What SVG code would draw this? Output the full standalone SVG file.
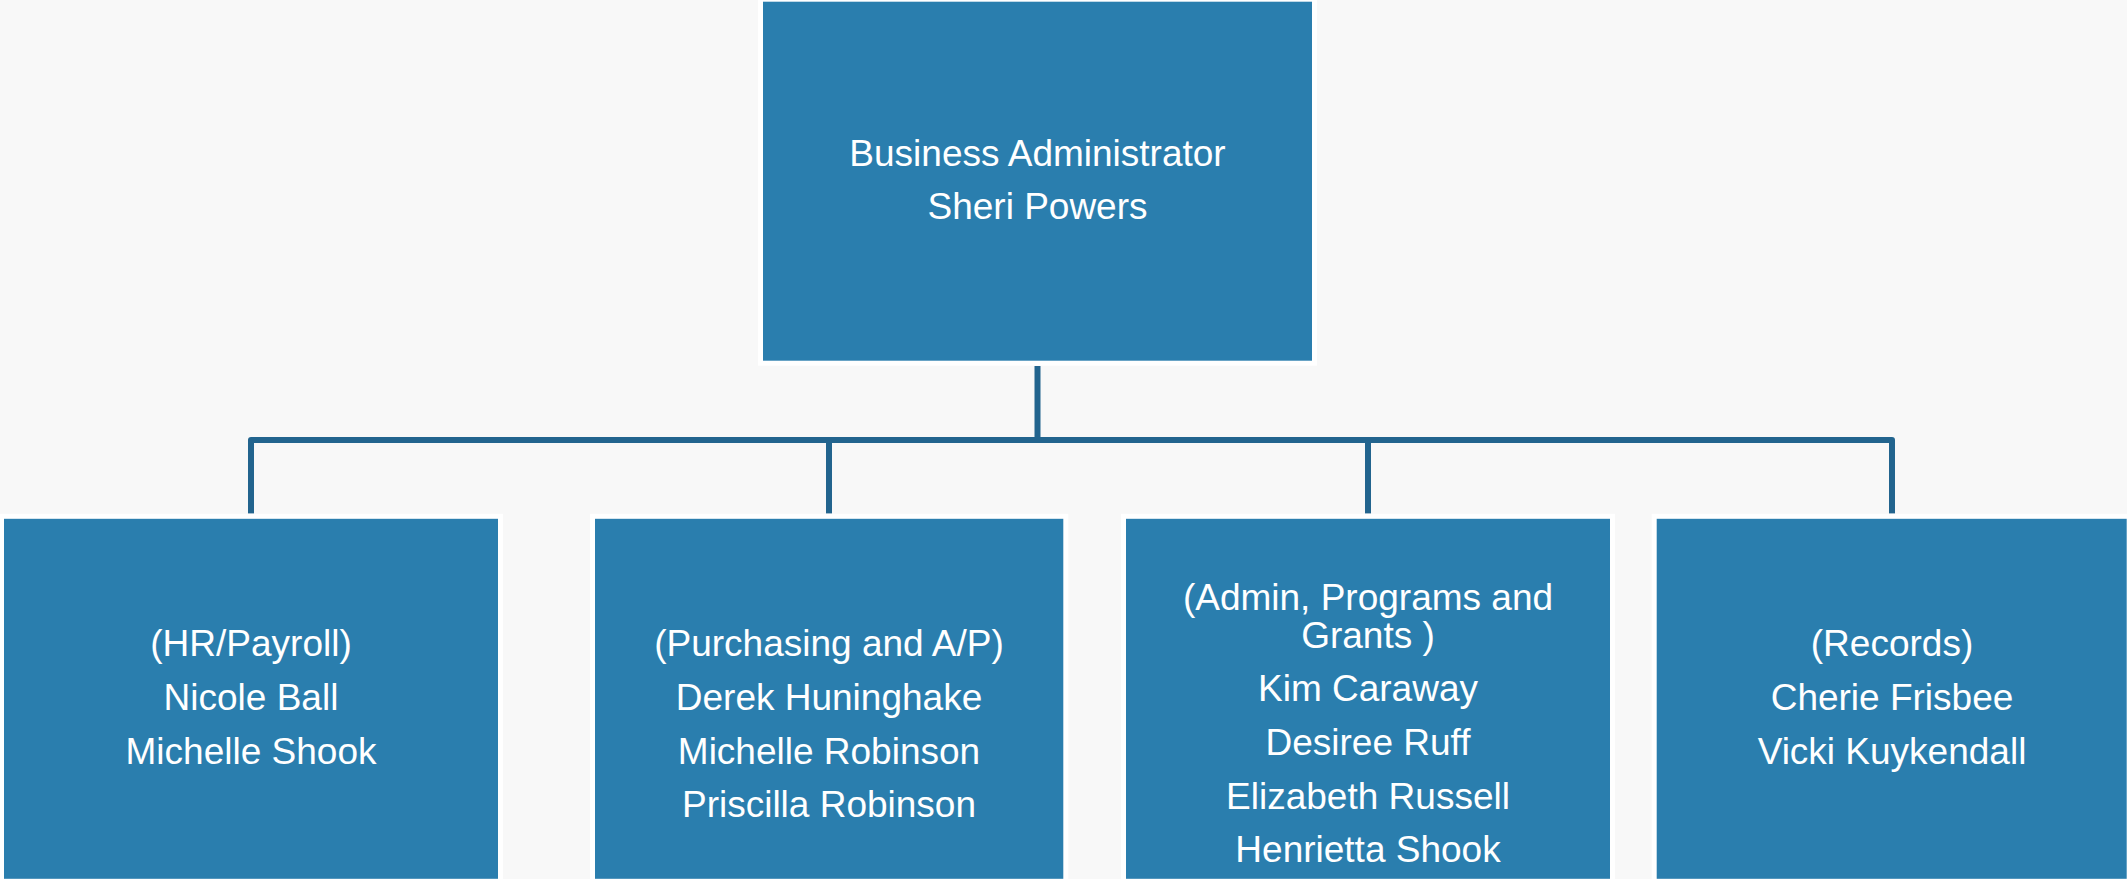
<svg xmlns="http://www.w3.org/2000/svg" width="2127" height="879" viewBox="0 0 2127 879">
<style>
.box{fill:#2a7eae;stroke:#ffffff;stroke-width:5}
.lbl{font-family:"Liberation Sans",Arial,sans-serif;font-size:37px;fill:#ffffff;text-anchor:middle}
.conn{fill:none;stroke:#22648e;stroke-width:6;stroke-linejoin:round}
</style>
<rect x="0" y="0" width="2127" height="879" fill="#f8f8f8"/>
<g id="connectors">
<path class="conn" d="M1037.5 366 V440"/>
<path class="conn" d="M251 513.5 V440 H1892 V513.5"/>
<path class="conn" d="M829 440 V513.5"/>
<path class="conn" d="M1368 440 V513.5"/>
</g>
<g id="node-top">
<rect class="box" x="760.5" y="-0.8" width="554" height="364"/>
<text class="lbl" x="1037.5" y="165.7">Business Administrator</text>
<text class="lbl" x="1037.5" y="219">Sheri Powers</text>
</g>
<g id="node-hr">
<rect class="box" x="1.5" y="516.3" width="499" height="365"/>
<text class="lbl" x="251" y="656.3">(HR/Payroll)</text>
<text class="lbl" x="251" y="710.2">Nicole Ball</text>
<text class="lbl" x="251" y="763.9">Michelle Shook</text>
</g>
<g id="node-purchasing">
<rect class="box" x="592.5" y="516.3" width="473.3" height="365"/>
<text class="lbl" x="829" y="656.3">(Purchasing and A/P)</text>
<text class="lbl" x="829" y="710.2">Derek Huninghake</text>
<text class="lbl" x="829" y="763.9">Michelle Robinson</text>
<text class="lbl" x="829" y="817.1">Priscilla Robinson</text>
</g>
<g id="node-admin">
<rect class="box" x="1123.5" y="516.3" width="489" height="365"/>
<text class="lbl" x="1368" y="609.9">(Admin, Programs and</text>
<text class="lbl" x="1368" y="647.7">Grants )</text>
<text class="lbl" x="1368" y="701">Kim Caraway</text>
<text class="lbl" x="1368" y="754.9">Desiree Ruff</text>
<text class="lbl" x="1368" y="808.5">Elizabeth Russell</text>
<text class="lbl" x="1368" y="862">Henrietta Shook</text>
</g>
<g id="node-records">
<rect class="box" x="1654.2" y="516.3" width="475" height="365"/>
<text class="lbl" x="1892" y="656.3">(Records)</text>
<text class="lbl" x="1892" y="710.2">Cherie Frisbee</text>
<text class="lbl" x="1892" y="763.9">Vicki Kuykendall</text>
</g>
</svg>
